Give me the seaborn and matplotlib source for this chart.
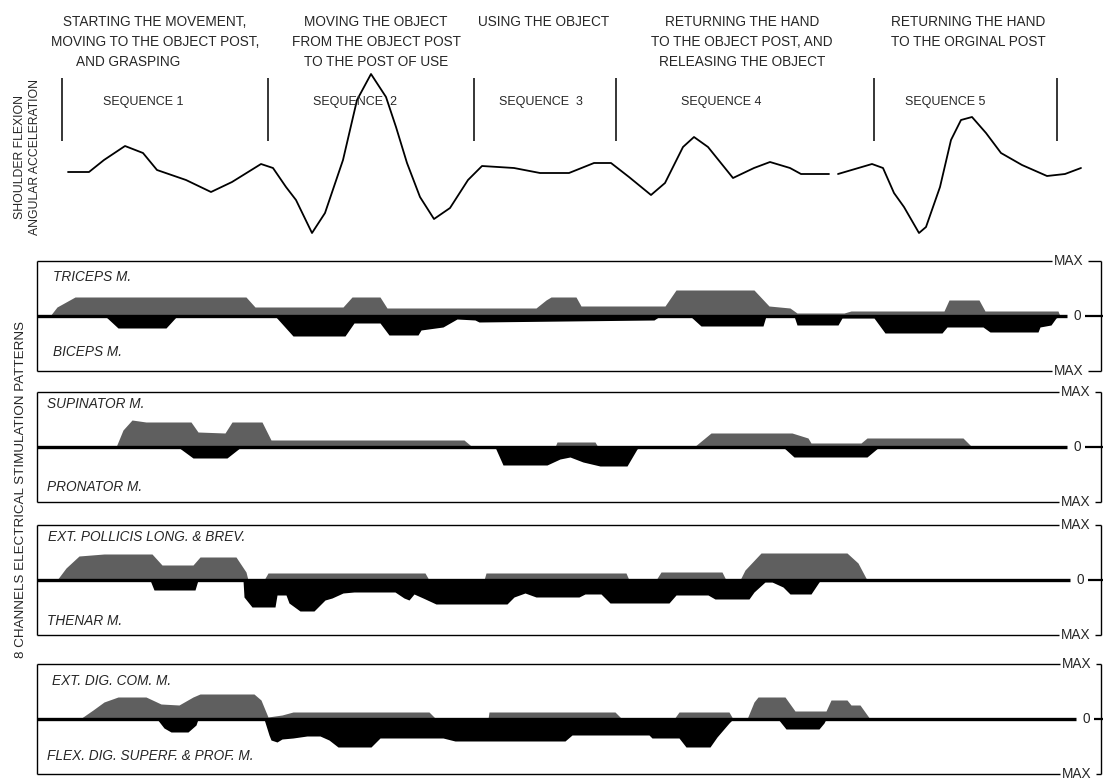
import numpy as np
import pandas as pd
import matplotlib
matplotlib.use("Agg")
import matplotlib.pyplot as plt
import seaborn as sns

# --- figure size in pixels (100 dpi)
W, H = 1103, 779

# --- shoulder flexion angular acceleration (time, relative amplitude)
accel_t = [68, 89, 104, 125, 143, 157, 186, 211, 232, 261, 273, 286, 296, 312, 325,
           343, 357, 371, 386, 396, 407, 420, 434, 450, 468, 482, 514, 540, 569, 594,
           611, 629, 651, 665, 683, 694, 708, 733, 754, 770, 790, 801, 829]
accel_v = [0, 0, 12, 26, 19, 2, -8, -20, -10, 8, 4, -15, -28, -61, -41,
           12, 72, 98, 75, 45, 9, -25, -47, -36, -8, 6, 4, -1, -1, 9,
           9, -5, -23, -11, 25, 35, 25, -6, 4, 10, 4, -2, -2]
accel2_t = [838, 872, 883, 894, 904, 919, 926, 940, 951, 961, 972, 986, 1001, 1022,
            1047, 1065, 1081]
accel2_v = [-2, 8, 4, -21, -35, -61, -55, -15, 32, 52, 55, 39, 19, 7, -4, -2, 4]

seq_bounds = [62, 268, 474, 616, 874, 1057]
seq_names = ["SEQUENCE 1", "SEQUENCE  2", "SEQUENCE  3", "SEQUENCE 4", "SEQUENCE 5"]
seq_centers = [143, 355, 541, 721, 945]

phase_texts = [
    ["STARTING THE MOVEMENT,", "MOVING TO THE OBJECT POST,", "AND GRASPING"],
    ["MOVING THE OBJECT", "FROM THE OBJECT POST", "TO THE POST OF USE"],
    ["USING THE OBJECT"],
    ["RETURNING THE HAND", "TO THE OBJECT POST, AND", "RELEASING THE OBJECT"],
    ["RETURNING THE HAND", "TO THE ORGINAL POST"],
]
phase_centers = [155, 376, 544, 742, 968]

# --- stimulation patterns (time, level; MAX = 55)
triceps_t = [50, 57, 75, 246, 255, 343, 352, 380, 387, 536, 546, 551, 576, 581, 665, 676,
             754, 769, 790, 797, 844, 851, 944, 949, 979, 985, 1058, 1060]
triceps_v = [0, 9, 19, 19, 9, 9, 19, 19, 8, 8, 16, 19, 19, 10, 10, 26,
             26, 10, 8, 3, 3, 5, 5, 16, 16, 5, 5, 0]
biceps_t = [105, 118, 166, 177, 275, 293, 345, 354, 380, 389, 418, 421, 443, 457, 475, 479,
            654, 660, 690, 701, 763, 766, 794, 797, 838, 842, 874, 885, 942, 947, 983, 990,
            1038, 1040, 1051, 1056, 1060]
biceps_v = [0, 12, 12, 0, 0, 20, 20, 7, 7, 19, 19, 14, 11, 3, 4, 6,
            4, 0, 0, 10, 10, 0, 0, 9, 9, 2, 2, 17, 17, 11, 11, 16,
            16, 11, 9, 2, 0]

supinator_t = [116, 123, 132, 146, 191, 198, 225, 232, 262, 271, 464, 470, 472, 555, 557,
               595, 598, 694, 711, 792, 808, 811, 861, 867, 963, 972]
supinator_v = [0, 17, 27, 25, 25, 15, 14, 25, 25, 7, 7, 2, 0, 0, 5,
               5, 0, 0, 14, 14, 9, 4, 4, 9, 9, 0]
pronator_t = [178, 193, 227, 241, 495, 503, 547, 560, 570, 583, 600, 627, 637, 640,
              783, 794, 867, 879]
pronator_v = [0, 11, 11, 0, 0, 18, 18, 12, 10, 15, 19, 19, 2, 0,
              0, 10, 10, 0]

pollicis_t = [57, 66, 79, 104, 152, 162, 193, 200, 236, 246, 248, 264, 268, 425, 429, 484,
              486, 626, 629, 656, 661, 722, 726, 740, 745, 761, 847, 858, 867]
pollicis_v = [0, 12, 24, 26, 26, 15, 15, 23, 23, 8, 0, 0, 7, 7, 0, 0,
              7, 7, 0, 0, 8, 8, 0, 0, 10, 27, 27, 17, 0]
thenar_t = [150, 154, 195, 198, 243, 244, 252, 275, 277, 286, 289, 300, 314, 325, 332, 343,
            354, 395, 404, 409, 414, 423, 436, 507, 514, 525, 536, 579, 585, 601, 610, 669,
            676, 708, 715, 749, 754, 765, 772, 783, 790, 811, 819, 821]
thenar_v = [0, 10, 10, 0, 0, 17, 27, 27, 15, 15, 23, 31, 31, 20, 18, 13,
            12, 12, 18, 20, 14, 18, 24, 24, 17, 13, 17, 17, 14, 14, 23, 23,
            15, 15, 19, 19, 12, 2, 2, 7, 14, 14, 2, 0]

extdig_t = [80, 93, 104, 118, 146, 161, 179, 193, 200, 254, 261, 268, 282, 293, 429, 436,
            488, 489, 615, 622, 674, 679, 729, 733, 747, 754, 758, 785, 795, 826, 831, 847,
            851, 860, 870]
extdig_v = [0, 9, 17, 22, 22, 15, 14, 22, 25, 25, 19, 2, 4, 7, 7, 0,
            0, 7, 7, 0, 0, 7, 7, 0, 0, 17, 22, 22, 8, 8, 19, 19,
            14, 14, 0]
flexdig_t = [157, 164, 171, 188, 196, 198, 264, 269, 271, 277, 282, 293, 307, 320, 329, 338,
             371, 380, 443, 455, 565, 572, 649, 652, 679, 686, 710, 717, 729, 733, 778, 786,
             819, 824, 826]
flexdig_v = [0, 9, 13, 13, 6, 0, 0, 16, 21, 23, 20, 19, 17, 17, 21, 28,
             28, 19, 19, 22, 22, 16, 16, 19, 19, 28, 28, 18, 4, 0, 0, 10,
             10, 4, 0]

# upper name, lower name, upper series, lower series
panels = [
    ("TRICEPS M.", "BICEPS M.", triceps_t, triceps_v, biceps_t, biceps_v),
    ("SUPINATOR M.", "PRONATOR M.", supinator_t, supinator_v, pronator_t, pronator_v),
    ("EXT. POLLICIS LONG. & BREV.", "THENAR M.", pollicis_t, pollicis_v, thenar_t, thenar_v),
    ("EXT. DIG. COM. M.", "FLEX. DIG. SUPERF. & PROF. M.", extdig_t, extdig_v, flexdig_t, flexdig_v),
]
# layout per panel (pixels)
zero_y = [316, 447, 580, 719]
upper_lab = [(53, 277), (47, 404), (48, 537), (52, 681)]
lower_lab = [(53, 352), (47, 487), (47, 621), (47, 756)]
max_x = [1069, 1076, 1076, 1077]
zero_x = [1077, 1077, 1080, 1086]

MAX_LEVEL = 55
GREY = "#5f5f5f"
FS = 9.8

sns.set_style("white")
plt.rcParams["font.family"] = ["Liberation Sans", "DejaVu Sans"]

fig = plt.figure(figsize=(W / 100, H / 100), dpi=100)


def fx(x):
    return x / W


def fy(y):
    return 1 - y / H


# ---------------- top: acceleration curve
ax = fig.add_axes([0, fy(250), 1, 250 / H])
ax.set_xlim(0, W)
ax.set_ylim(-78, 172)
ax.axis("off")
seg1 = pd.DataFrame({"t": accel_t, "a": accel_v})
seg2 = pd.DataFrame({"t": accel2_t, "a": accel2_v})
sns.lineplot(data=seg1, x="t", y="a", ax=ax, color="black", lw=1.3, estimator=None, sort=False)
sns.lineplot(data=seg2, x="t", y="a", ax=ax, color="black", lw=1.3, estimator=None, sort=False)
ax.vlines(seq_bounds, 31, 94, color="black", lw=1.1)

for name, cx in zip(seq_names, seq_centers):
    fig.text(fx(cx), fy(102), name, ha="center", va="center", fontsize=9.0)

for lines, cx in zip(phase_texts, phase_centers):
    for i, s in enumerate(lines):
        x = 128 if s == "AND GRASPING" else cx
        fig.text(fx(x), fy(22 + 20 * i), s, ha="center", va="center", fontsize=FS)

fig.text(fx(20), fy(157), "SHOULDER FLEXION", rotation=90, ha="center", va="center", fontsize=8.8)
fig.text(fx(35), fy(157), "ANGULAR ACCELERATION", rotation=90, ha="center", va="center", fontsize=8.8)
fig.text(fx(21), fy(490), "8 CHANNELS ELECTRICAL STIMULATION PATTERNS", rotation=90,
         ha="center", va="center", fontsize=9.6)

# ---------------- stimulation panels
BOX_LEFT = 37
for k, (up_name, dn_name, ut, uv, dt, dv) in enumerate(panels):
    z = zero_y[k]
    axp = fig.add_axes([0, fy(z + MAX_LEVEL), 1, 2 * MAX_LEVEL / H])
    axp.set_xlim(0, W)
    axp.set_ylim(-MAX_LEVEL, MAX_LEVEL)
    axp.axis("off")
    axp.fill_between(ut, 0, uv, color=GREY, lw=0)
    axp.fill_between(dt, 0, -np.array(dv), color="black", lw=0)
    kw = dict(color="black", clip_on=False)
    mx, zx = max_x[k], zero_x[k]
    axp.hlines([MAX_LEVEL, -MAX_LEVEL], BOX_LEFT, mx - 17, lw=1.0, **kw)
    axp.vlines(BOX_LEFT, -MAX_LEVEL, MAX_LEVEL, lw=1.0, **kw)
    axp.hlines(0, BOX_LEFT, zx - 10, lw=2.4, **kw)
    axp.text(mx, MAX_LEVEL, "MAX", ha="center", va="center", fontsize=FS)
    axp.text(mx, -MAX_LEVEL, "MAX", ha="center", va="center", fontsize=FS)
    axp.text(zx, 0, "0", ha="center", va="center", fontsize=FS)
    axp.hlines([MAX_LEVEL, -MAX_LEVEL], mx + 19, 1101, lw=1.0, **kw)
    axp.hlines(0, zx + 8, 1103, lw=1.6, **kw)
    axp.vlines(1101, -MAX_LEVEL, MAX_LEVEL, lw=1.0, **kw)
    fig.text(fx(upper_lab[k][0]), fy(upper_lab[k][1]), up_name, ha="left", va="center",
             fontsize=FS, style="italic")
    fig.text(fx(lower_lab[k][0]), fy(lower_lab[k][1]), dn_name, ha="left", va="center",
             fontsize=FS, style="italic")

fig.savefig("out.png", dpi=100, facecolor="white")
